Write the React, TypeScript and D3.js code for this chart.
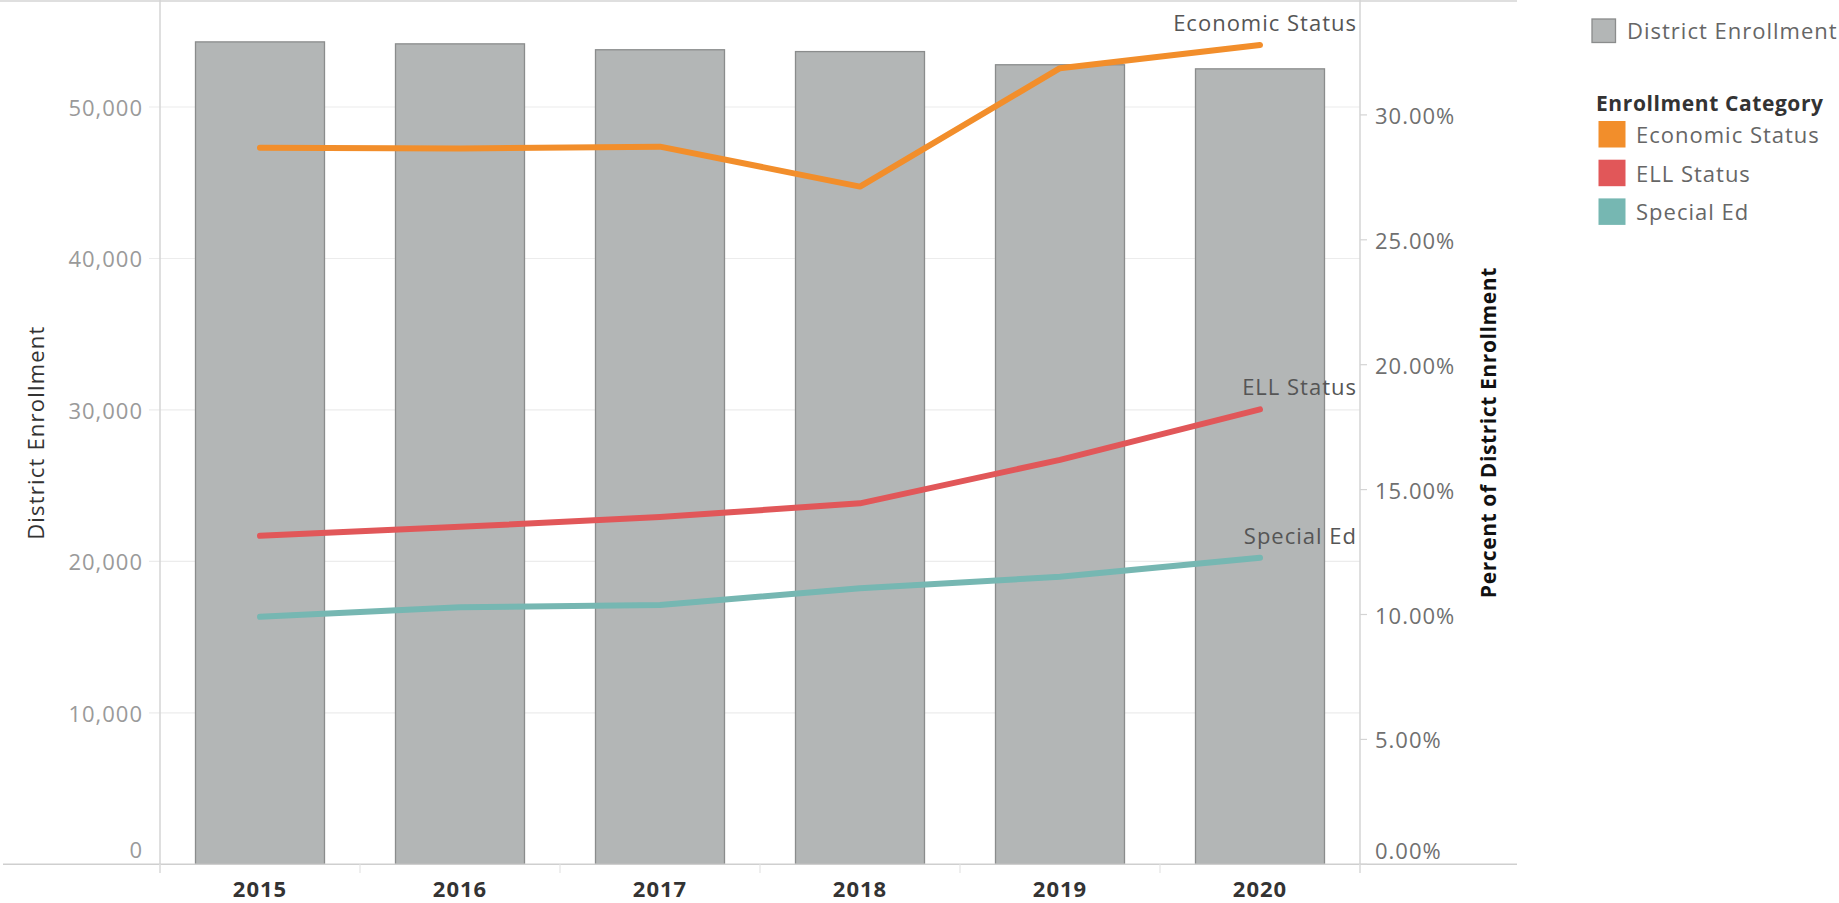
import React from 'react';
import * as d3 from 'd3';

const years = ['2015', '2016', '2017', '2018', '2019', '2020'];
const districtEnrollment = [54300, 54170, 53780, 53660, 52790, 52520];
const economicStatusPct = [28.69, 28.66, 28.73, 27.13, 31.87, 32.8];
const ellStatusPct = [13.15, 13.51, 13.9, 14.45, 16.19, 18.21];
const specialEdPct = [9.91, 10.29, 10.38, 11.05, 11.51, 12.27];
const leftTicks = [0, 10000, 20000, 30000, 40000, 50000];
const rightTicks = [0, 5, 10, 15, 20, 25, 30];
const seriesNames = ['Economic Status', 'ELL Status', 'Special Ed'];
const seriesColors = ['#f28e2b', '#e15759', '#76b7b2'];
const seriesValues = [economicStatusPct, ellStatusPct, specialEdPct];

const W = 1839;
const H = 903;
const FONT = '"Open Sans", "Noto Sans", sans-serif';

export default function App() {
  const left = 160;
  const right = 1360;
  const top = 1;
  const bottom = 864.3;

  const x = d3.scaleBand<string>().domain(years).range([left, right]).padding(0);
  const yL = d3.scaleLinear().domain([0, 57000]).range([bottom, top]);
  const yR = d3.scaleLinear().domain([0, 34.56]).range([bottom, top]);
  const bw = x.bandwidth();
  const barW = bw * 0.645;
  const cx = (yr: string) => (x(yr) as number) + bw / 2;
  const fmtL = d3.format(',');
  const fmtR = (v: number) => d3.format('.2f')(v) + '%';

  const line = d3
    .line<number>()
    .x((_, i) => cx(years[i]))
    .y((v) => yR(v));

  const boundaries = years.map((yr) => x(yr) as number).concat([right]);

  return (
    <svg
      width={W}
      height={H}
      style={{ position: 'absolute', left: 0, top: 0, background: '#fff' }}
      fontFamily={FONT}
    >
      {/* frame lines */}
      <line x1={0} x2={1517} y1={1} y2={1} stroke="#d4d4d4" strokeWidth={1.5} />
      {/* gridlines */}
      {leftTicks
        .filter((t) => t > 0)
        .map((t) => (
          <line key={'g' + t} x1={149} x2={right} y1={yL(t)} y2={yL(t)} stroke="#ececec" strokeWidth={1.2} />
        ))}
      {/* bars */}
      {years.map((yr, i) => (
        <rect
          key={'b' + yr}
          x={cx(yr) - barW / 2}
          y={yL(districtEnrollment[i])}
          width={barW}
          height={bottom - yL(districtEnrollment[i])}
          fill="#b3b6b6"
          stroke="#8a8c8c"
          strokeWidth={1.3}
        />
      ))}
      {/* axes lines */}
      <line x1={left} x2={left} y1={0} y2={873} stroke="#d4d4d4" strokeWidth={1.5} />
      <line x1={right} x2={right} y1={0} y2={873} stroke="#d4d4d4" strokeWidth={1.5} />
      <line x1={3} x2={1517} y1={bottom} y2={bottom} stroke="#cfcfcf" strokeWidth={1.5} />
      {boundaries.map((b, i) => (
        <line key={'sep' + i} x1={b} x2={b} y1={bottom} y2={873} stroke="#e4e4e4" strokeWidth={1.2} />
      ))}
      {/* right ticks */}
      {rightTicks.map((t) => (
        <line key={'rt' + t} x1={right} x2={right + 7} y1={yR(t)} y2={yR(t)} stroke="#d4d4d4" strokeWidth={1.2} />
      ))}
      {/* left tick labels */}
      {leftTicks.map((t) => {
        const yy = yL(t) > 855 ? 849 : yL(t);
        return (
          <text
            key={'lt' + t}
            x={143}
            y={yy}
            textAnchor="end"
            dominantBaseline="central"
            fontSize={22}
            letterSpacing={1}
            fill="#9a9a9a"
          >
            {fmtL(t)}
          </text>
        );
      })}
      {/* right tick labels */}
      {rightTicks.map((t) => {
        const yy = yR(t) > 855 ? 850 : yR(t);
        return (
          <text
            key={'rl' + t}
            x={1375}
            y={yy}
            dominantBaseline="central"
            fontSize={22}
            letterSpacing={1}
            fill="#707070"
          >
            {fmtR(t)}
          </text>
        );
      })}
      {/* year labels */}
      {years.map((yr) => (
        <text
          key={'yl' + yr}
          x={cx(yr)}
          y={888}
          textAnchor="middle"
          dominantBaseline="central"
          fontSize={22}
          fontWeight="bold"
          letterSpacing={1}
          fill="#333"
        >
          {yr}
        </text>
      ))}
      {/* axis titles */}
      <text
        transform={`translate(35, ${(top + bottom) / 2}) rotate(-90)`}
        textAnchor="middle"
        dominantBaseline="central"
        fontSize={22}
        letterSpacing={1.2}
        fill="#333"
      >
        District Enrollment
      </text>
      <text
        transform={`translate(1488, ${(top + bottom) / 2}) rotate(-90)`}
        textAnchor="middle"
        dominantBaseline="central"
        fontSize={21}
        fontWeight="bold"
        letterSpacing={0.6}
        fill="#111"
      >
        Percent of District Enrollment
      </text>
      {/* lines */}
      {seriesValues.map((vals, s) => (
        <path
          key={'ln' + s}
          d={line(vals) || ''}
          fill="none"
          stroke={seriesColors[s]}
          strokeWidth={6}
          strokeLinecap="round"
          strokeLinejoin="round"
        />
      ))}
      {/* line labels */}
      {seriesValues.map((vals, s) => (
        <text
          key={'lab' + s}
          x={cx(years[years.length - 1]) + 97}
          y={yR(vals[vals.length - 1]) - 23}
          textAnchor="end"
          dominantBaseline="central"
          fontSize={22}
          letterSpacing={1}
          fill="#555"
        >
          {seriesNames[s]}
        </text>
      ))}
      {/* legend */}
      <rect x={1592} y={19} width={23.5} height={23.5} fill="#b3b6b6" stroke="#8a8c8c" strokeWidth={1.3} />
      <text x={1627} y={30} dominantBaseline="central" fontSize={22} letterSpacing={1} fill="#666">
        District Enrollment
      </text>
      <text
        x={1596}
        y={103}
        dominantBaseline="central"
        fontSize={21}
        fontWeight="bold"
        letterSpacing={0.6}
        fill="#333"
      >
        Enrollment Category
      </text>
      {seriesNames.map((n, i) => (
        <g key={'lg' + n}>
          <rect x={1598.5} y={121 + i * 38.7} width={27} height={26.5} fill={seriesColors[i]} />
          <text
            x={1636}
            y={134 + i * 38.7}
            dominantBaseline="central"
            fontSize={22}
            letterSpacing={1}
            fill="#666"
          >
            {n}
          </text>
        </g>
      ))}
    </svg>
  );
}
